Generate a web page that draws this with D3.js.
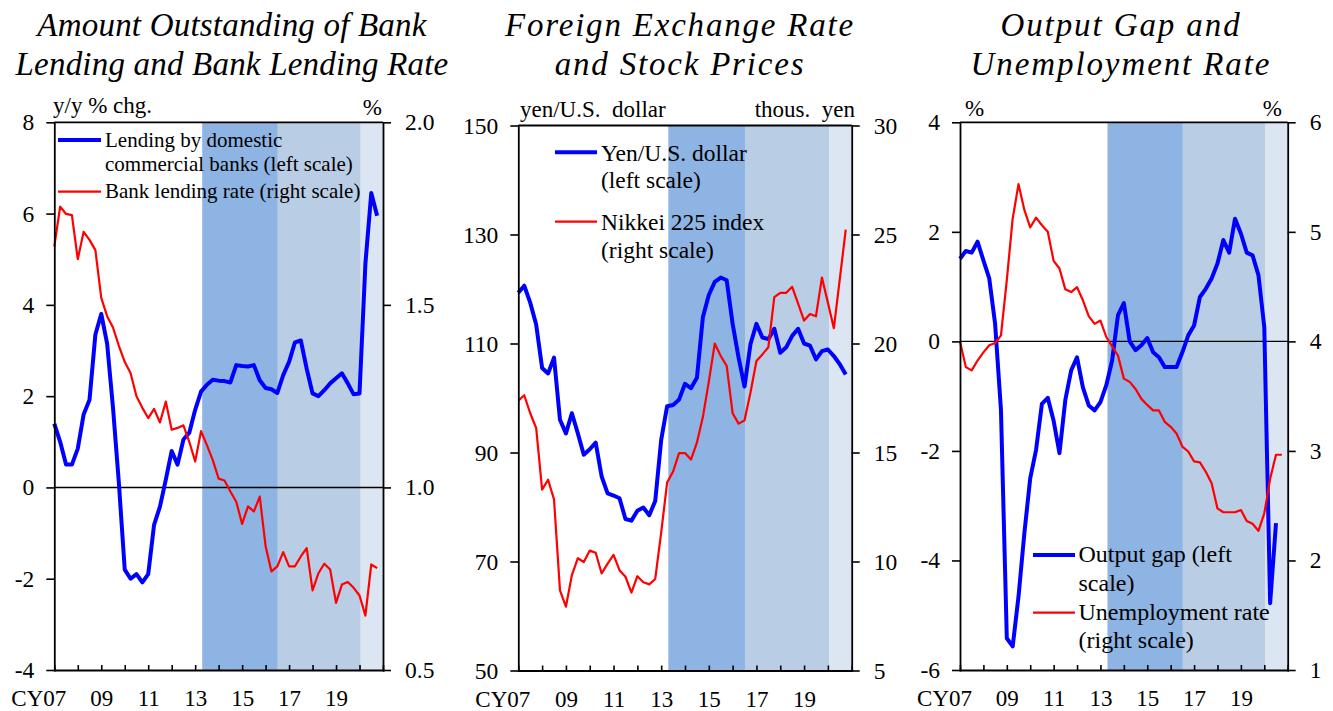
<!DOCTYPE html>
<html><head><meta charset="utf-8">
<script src="https://cdn.jsdelivr.net/npm/d3@7"></script>
<style>
body{margin:0;background:#fff}
svg{display:block}
text{font-family:"Liberation Serif","Times New Roman",serif;fill:#000;white-space:pre}
</style>
</head><body>
<svg id="c" width="1333" height="711"></svg>
<script>
// ---------- DATA ----------
const quarters = d3.range(56).map(i => 2007 + i / 4); // 2007Q1 .. 2020Q4
const lendingGrowth = [1.4,1.0,0.5,0.5,0.85,1.6,1.92,3.35,3.8,3.15,1.75,0.1,-1.8,-2.0,-1.9,-2.08,-1.9,-0.82,-0.42,0.17,0.8,0.5,1.05,1.2,1.7,2.1,2.25,2.36,2.34,2.33,2.3,2.68,2.66,2.65,2.68,2.35,2.18,2.15,2.07,2.46,2.75,3.18,3.22,2.6,2.06,2.0,2.13,2.28,2.39,2.5,2.28,2.04,2.06,4.9,6.45,5.95];
const lendingRate = [1.660,1.769,1.749,1.746,1.625,1.700,1.678,1.650,1.519,1.469,1.438,1.388,1.344,1.313,1.250,1.218,1.190,1.215,1.178,1.235,1.158,1.163,1.170,1.125,1.071,1.154,1.116,1.075,1.024,1.019,0.989,0.961,0.900,0.948,0.934,0.975,0.839,0.770,0.784,0.823,0.784,0.784,0.811,0.834,0.718,0.765,0.791,0.775,0.684,0.734,0.741,0.725,0.704,0.649,0.789,0.779];
const yenPerDollar = [119.3,120.6,117.5,113.5,105.5,104.5,107.4,96,93.5,97.2,93.5,89.6,90.6,91.8,85.6,82.5,82.1,81.6,77.8,77.5,79.3,79.9,78.5,81.1,92.3,98.5,98.7,99.7,102.6,101.8,103.7,114.8,118.9,121.3,122.1,121.6,113.6,107.4,102.1,109.9,113.6,111.1,110.8,112.7,108.3,109.3,111.4,112.7,110.0,109.6,107.1,108.6,108.9,107.7,106.2,104.3];
const nikkei225 = [17.375,17.625,16.8,16.125,13.3,13.75,12.85,8.675,7.925,9.375,10.15,9.975,10.5,10.4,9.45,9.9,10.3,9.6,9.3,8.575,9.325,9.05,8.95,9.2,11.325,13.625,14.125,14.975,14.975,14.675,15.45,16.625,18.25,20.0,19.425,18.975,16.8,16.325,16.475,17.75,19.2,19.5,19.825,22.125,22.325,22.325,22.6,21.825,21.05,21.35,21.25,23.025,21.875,20.7,22.95,25.225];
const outputGap = [1.51,1.65,1.62,1.82,1.48,1.15,0.32,-1.25,-5.42,-5.57,-4.66,-3.5,-2.5,-1.98,-1.14,-1.03,-1.45,-2.04,-1.07,-0.53,-0.29,-0.84,-1.17,-1.26,-1.11,-0.8,-0.35,0.48,0.7,0.0,-0.16,-0.07,0.06,-0.2,-0.29,-0.47,-0.47,-0.47,-0.2,0.11,0.29,0.81,0.96,1.15,1.42,1.85,1.62,2.24,1.97,1.62,1.57,1.21,0.26,-4.78,-3.32];
const unemploymentRate = [4.0,3.765,3.735,3.825,3.9,3.965,3.985,4.055,4.56,5.12,5.435,5.2,5.04,5.13,5.06,5.0,4.735,4.665,4.475,4.45,4.495,4.375,4.23,4.16,4.19,4.04,3.955,3.87,3.66,3.63,3.565,3.475,3.42,3.37,3.37,3.265,3.22,3.16,3.04,2.995,2.905,2.895,2.81,2.705,2.475,2.44,2.44,2.44,2.46,2.36,2.335,2.27,2.43,2.745,2.965,2.965];

const shadeBands = [[2013.3, 2016.52], [2016.52, 2020.05], [2020.05, 2021]];
const shadeColors = ["#8EB4E3", "#B9CDE5", "#DCE6F2"];
const xTickYears = d3.range(2007, 2022);
const xLabelYears = [2007, 2009, 2011, 2013, 2015, 2017, 2019];
const xLabels = ["CY07", "09", "11", "13", "15", "17", "19"];

const p1LeftTicks = [-4, -2, 0, 2, 4, 6, 8];
const p1RightTicks = [0.5, 1.0, 1.5, 2.0];
const p2LeftTicks = [50, 70, 90, 110, 130, 150];
const p2RightTicks = [5, 10, 15, 20, 25, 30];
const p3LeftTicks = [-6, -4, -2, 0, 2, 4];
const p3RightTicks = [1, 2, 3, 4, 5, 6];

// ---------- DRAW ----------
const svg = d3.select("#c");
const FONT = '"Liberation Serif","Times New Roman",serif';
const BLUE = "#0000FF", RED = "#FF0000";
const intFmt = d => (d < 0 ? "-" : "") + Math.abs(d);
const dec1Fmt = d => d.toFixed(1);

const panels = [
  {
    left: 54.3, right: 383, top: 122.3, bottom: 670,
    leftDomain: [-4, 8], rightDomain: [0.5, 2.0],
    leftTicks: p1LeftTicks, rightTicks: p1RightTicks,
    leftFmt: intFmt, rightFmt: dec1Fmt,
    zero: 0,
    blue: lendingGrowth, red: lendingRate,
    titleX: 232, titleSpacing: 0.2, title: ["Amount Outstanding of Bank", "Lending and Bank Lending Rate"],
    units: [{t: "y/y % chg.", x: 53, y: 113, a: "start"}, {t: "%", x: 382, y: 115, a: "end"}],
    legend: {fs: 21, x1: 58, x2: 101, tx: 105,
      items: [{c: BLUE, w: 4, y: 140, lines: [["Lending by domestic", 147.3], ["commercial banks (left scale)", 171]]},
              {c: RED, w: 2.2, y: 191.7, lines: [["Bank lending rate (right scale)", 198.3]]}]}
  },
  {
    left: 518.3, right: 851.7, top: 125.5, bottom: 670.5,
    leftDomain: [50, 150], rightDomain: [5, 30],
    leftTicks: p2LeftTicks, rightTicks: p2RightTicks,
    leftFmt: intFmt, rightFmt: intFmt,
    zero: null,
    blue: yenPerDollar, red: nikkei225,
    titleX: 680, titleSpacing: 1.8, title: ["Foreign Exchange Rate", "and Stock Prices"],
    units: [{t: "yen/U.S.  dollar", x: 520, y: 117, a: "start"}, {t: "thous.  yen", x: 855, y: 117, a: "end"}],
    legend: {fs: 23.5, x1: 555, x2: 597, tx: 601,
      items: [{c: BLUE, w: 4, y: 152.3, lines: [["Yen/U.S. dollar", 160.7], ["(left scale)", 188.3]]},
              {c: RED, w: 2.2, y: 221.7, lines: [["Nikkei 225 index", 230], ["(right scale)", 258]]}]}
  },
  {
    left: 960, right: 1287.7, top: 122.3, bottom: 670,
    leftDomain: [-6, 4], rightDomain: [1, 6],
    leftTicks: p3LeftTicks, rightTicks: p3RightTicks,
    leftFmt: intFmt, rightFmt: intFmt,
    zero: 0,
    blue: outputGap, red: unemploymentRate,
    titleX: 1121, titleSpacing: 1.9, title: ["Output Gap and", "Unemployment Rate"],
    units: [{t: "%", x: 965, y: 116, a: "start"}, {t: "%", x: 1282, y: 116, a: "end"}],
    legend: {fs: 24, x1: 1033, x2: 1075, tx: 1078.5,
      items: [{c: BLUE, w: 4, y: 555, lines: [["Output gap (left", 561.7], ["scale)", 591]]},
              {c: RED, w: 2.2, y: 612.7, lines: [["Unemployment rate", 620], ["(right scale)", 648.3]]}]}
  }
];

function styleAxis(g, fs) {
  g.attr("font-family", FONT).attr("font-size", fs);
  g.selectAll("path.domain").attr("stroke", "#000").attr("stroke-width", 1.8).attr("stroke-linecap", "square");
  g.selectAll(".tick line").attr("stroke", "#000").attr("stroke-width", 1.6);
  g.selectAll(".tick text").attr("fill", "#000");
}

panels.forEach(p => {
  const g = svg.append("g");
  const x = d3.scaleLinear([2007, 2021], [p.left, p.right]);
  const yL = d3.scaleLinear(p.leftDomain, [p.bottom, p.top]);
  const yR = d3.scaleLinear(p.rightDomain, [p.bottom, p.top]);

  // shaded periods
  g.selectAll("rect.band").data(shadeBands).join("rect")
    .attr("x", d => x(d[0])).attr("width", d => x(d[1]) - x(d[0]))
    .attr("y", p.top).attr("height", p.bottom - p.top)
    .attr("fill", (d, i) => shadeColors[i]);

  // zero line
  if (p.zero !== null) {
    g.append("line").attr("x1", p.left).attr("x2", p.right)
      .attr("y1", yL(p.zero)).attr("y2", yL(p.zero))
      .attr("stroke", "#000").attr("stroke-width", 1.4);
  }

  // series
  const blueLine = d3.line().x((d, i) => x(quarters[i])).y(d => yL(d));
  const redLine = d3.line().x((d, i) => x(quarters[i])).y(d => yR(d));
  g.append("path").datum(p.blue).attr("d", blueLine).attr("fill", "none")
    .attr("stroke", BLUE).attr("stroke-width", 4).attr("stroke-linejoin", "round");
  g.append("path").datum(p.red).attr("d", redLine).attr("fill", "none")
    .attr("stroke", RED).attr("stroke-width", 2.2).attr("stroke-linejoin", "round");

  // top border
  g.append("line").attr("x1", p.left).attr("x2", p.right).attr("y1", p.top).attr("y2", p.top)
    .attr("stroke", "#000").attr("stroke-width", 1.8);

  // left axis
  g.append("g").attr("transform", `translate(${p.left},0)`)
    .call(d3.axisLeft(yL).tickValues(p.leftTicks).tickFormat(p.leftFmt).tickSize(8).tickSizeOuter(0).tickPadding(12))
    .call(a => styleAxis(a, 23.5));
  // right axis
  g.append("g").attr("transform", `translate(${p.right},0)`)
    .call(d3.axisRight(yR).tickValues(p.rightTicks).tickFormat(p.rightFmt).tickSize(8).tickSizeOuter(0).tickPadding(14))
    .call(a => styleAxis(a, 23.5));
  // bottom axis
  const labelOf = new Map(xLabelYears.map((yv, i) => [yv, xLabels[i]]));
  const bx = g.append("g").attr("transform", `translate(0,${p.bottom})`)
    .call(d3.axisBottom(x).tickValues(xTickYears).tickSize(-5).tickSizeOuter(0)
      .tickFormat(d => labelOf.has(d) ? labelOf.get(d) : ""))
    .call(a => styleAxis(a, 23));
  bx.selectAll(".tick text").filter(d => !labelOf.has(d)).remove();
  bx.selectAll(".tick text").attr("y", 36).attr("dy", 0);
  // "CY07": keep "07" centred on the tick, prefix "CY" to the left
  bx.selectAll(".tick").filter(d => d === 2007).each(function () {
    const t = d3.select(this).select("text");
    t.text("07");
    const w = t.node().getComputedTextLength();
    d3.select(this).append("text").attr("x", -w / 2).attr("y", 36)
      .attr("text-anchor", "end").attr("fill", "#000").text("CY");
  });

  // unit labels
  p.units.forEach(u => {
    g.append("text").attr("x", u.x).attr("y", u.y).attr("text-anchor", u.a)
      .attr("font-size", 23).attr("xml:space", "preserve").text(u.t);
  });

  // title
  p.title.forEach((t, i) => {
    g.append("text").attr("x", p.titleX).attr("y", i === 0 ? 36 : 75)
      .attr("text-anchor", "middle").attr("font-size", 33).attr("font-style", "italic")
      .attr("letter-spacing", p.titleSpacing).text(t);
  });

  // legend
  const L = p.legend;
  L.items.forEach(it => {
    g.append("line").attr("x1", L.x1).attr("x2", L.x2).attr("y1", it.y).attr("y2", it.y)
      .attr("stroke", it.c).attr("stroke-width", it.w);
    it.lines.forEach(([t, yy]) => {
      g.append("text").attr("x", L.tx).attr("y", yy).attr("font-size", L.fs).text(t);
    });
  });
});
</script>
</body></html>
